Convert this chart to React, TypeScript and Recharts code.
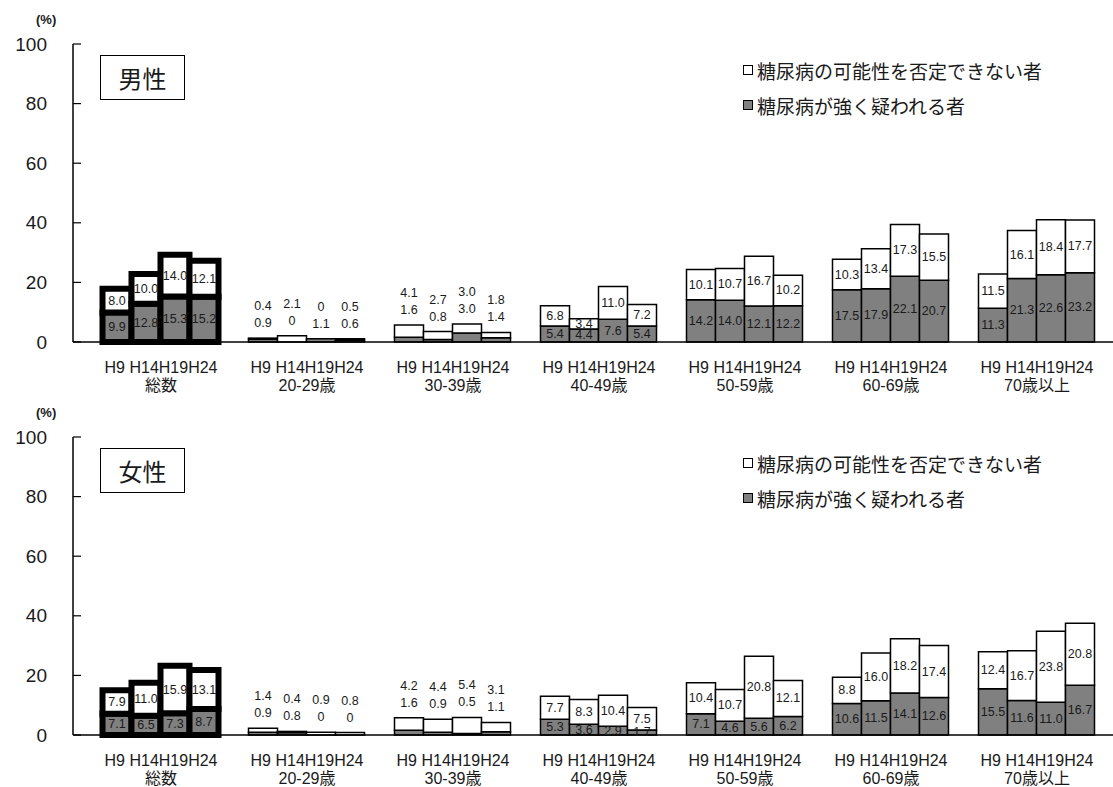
import React from 'react';
import { BarChart, Bar, XAxis, YAxis, Cell, LabelList } from 'recharts';

const ageGroups = ['総数', '20-29歳', '30-39歳', '40-49歳', '50-59歳', '60-69歳', '70歳以上'];
const years = ['H9', 'H14', 'H19', 'H24'];
const yTicks = [0, 20, 40, 60, 80, 100];

const legendPossible = '糖尿病の可能性を否定できない者';
const legendStrong = '糖尿病が強く疑われる者';

// 男性: [H9, H14, H19, H24] per age group
const maleStrong = [
  [9.9, 12.8, 15.3, 15.2],
  [0.9, 0, 1.1, 0.6],
  [1.6, 0.8, 3.0, 1.4],
  [5.4, 4.4, 7.6, 5.4],
  [14.2, 14.0, 12.1, 12.2],
  [17.5, 17.9, 22.1, 20.7],
  [11.3, 21.3, 22.6, 23.2],
];
const malePossible = [
  [8.0, 10.0, 14.0, 12.1],
  [0.4, 2.1, 0, 0.5],
  [4.1, 2.7, 3.0, 1.8],
  [6.8, 3.4, 11.0, 7.2],
  [10.1, 10.7, 16.7, 10.2],
  [10.3, 13.4, 17.3, 15.5],
  [11.5, 16.1, 18.4, 17.7],
];

// 女性
const femaleStrong = [
  [7.1, 6.5, 7.3, 8.7],
  [0.9, 0.8, 0, 0],
  [1.6, 0.9, 0.5, 1.1],
  [5.3, 3.6, 2.9, 1.7],
  [7.1, 4.6, 5.6, 6.2],
  [10.6, 11.5, 14.1, 12.6],
  [15.5, 11.6, 11.0, 16.7],
];
const femalePossible = [
  [7.9, 11.0, 15.9, 13.1],
  [1.4, 0.4, 0.9, 0.8],
  [4.2, 4.4, 5.4, 3.1],
  [7.7, 8.3, 10.4, 7.5],
  [10.4, 10.7, 20.8, 12.1],
  [8.8, 16.0, 18.2, 17.4],
  [12.4, 16.7, 23.8, 20.8],
];

const FONT = "'Liberation Sans', 'Noto Sans CJK JP', sans-serif";
const GRAY = '#808080';
const TEXT = '#1a1a1a';

const CHART_W = 1113;
const CHART_H = 394;
const M_TOP = 44;
const X_AXIS_H = 52;
const Y_MAX = 100;
const PX_PER_UNIT = (CHART_H - M_TOP - X_AXIS_H) / Y_MAX;

// groups whose values are written above the (tiny) bars
const labelsAbove = ['20-29歳', '30-39歳'];

const fmt = (v: number) => (v === 0 ? '0' : v.toFixed(1));

const buildRows = (strong: number[][], possible: number[][]) =>
  ageGroups.map((name, i) => {
    const row: any = { name };
    years.forEach((_, j) => {
      row[`s${j}`] = strong[i][j];
      row[`p${j}`] = possible[i][j];
    });
    return row;
  });

const XTick = (props: any) => {
  const { x, y, payload } = props;
  return (
    <g>
      <text x={x} y={y + 25} textAnchor="middle" dominantBaseline="central" fontSize={16} fill={TEXT} fontFamily={FONT}>
        {years[0]} {years.slice(1).join('')}
      </text>
      <text x={x} y={y + 43} textAnchor="middle" dominantBaseline="central" fontSize={16} fill={TEXT} fontFamily={FONT}>
        {payload.value}
      </text>
    </g>
  );
};

const YTick = (props: any) => {
  const { x, y, payload } = props;
  return (
    <g>
      <line x1={x} x2={x + 8} y1={y} y2={y} stroke="#000" strokeWidth={1.2} />
      <text x={x - 26} y={y} textAnchor="end" dominantBaseline="central" fontSize={19} fill={TEXT} fontFamily={FONT}>
        {payload.value}
      </text>
    </g>
  );
};

const Txt = ({ x, y, v }: { x: number; y: number; v: number }) => (
  <text x={x} y={y} textAnchor="middle" dominantBaseline="central" fontSize={12.5} fill={TEXT} fontFamily={FONT}>
    {fmt(v)}
  </text>
);

// value passed in is the row name (category), so the row is found even when zero bars are skipped
const makeLabel = (kind: 's' | 'p', year: number, rows: any[]) => (props: any) => {
  const vb = props.viewBox ?? props;
  const { x, y, width, height } = vb;
  const row = rows.find((r) => r.name === props.value);
  if (!row) return null;
  const cx = x + width / 2;
  const s = row[`s${year}`];
  const p = row[`p${year}`];
  if (labelsAbove.includes(row.name)) {
    if (kind === 's') {
      const stackTop = y - p * PX_PER_UNIT;
      return (
        <g>
          <Txt x={cx} y={stackTop - 15} v={s} />
          {p === 0 && <Txt x={cx} y={stackTop - 32} v={p} />}
        </g>
      );
    }
    return (
      <g>
        <Txt x={cx} y={y - 32} v={p} />
        {s === 0 && <Txt x={cx} y={y - 15} v={s} />}
      </g>
    );
  }
  return <Txt x={cx} y={y + height / 2} v={kind === 's' ? s : p} />;
};

const LegendBlock = () => (
  <div style={{ position: 'absolute', left: 743, top: 58, fontFamily: FONT, fontSize: 19, color: TEXT }}>
    {[{ t: legendPossible, c: '#fff' }, { t: legendStrong, c: GRAY }].map((item, i) => (
      <div key={i} style={{ display: 'flex', alignItems: 'center', height: 24, marginBottom: i === 0 ? 11 : 0 }}>
        <span style={{ width: 8, height: 8, border: '1.5px solid #000', background: item.c, marginRight: 4 }} />
        <span>{item.t}</span>
      </div>
    ))}
  </div>
);

const SexChart = ({ title, strong, possible, top }: { title: string; strong: number[][]; possible: number[][]; top: number }) => {
  const rows = buildRows(strong, possible);
  return (
    <div style={{ position: 'absolute', left: 0, top, width: CHART_W, height: CHART_H }}>
      <BarChart
        width={CHART_W}
        height={CHART_H}
        data={rows}
        margin={{ top: M_TOP, right: 0, bottom: 0, left: 0 }}
        barGap={0}
        barCategoryGap={14.5}
      >
        <XAxis
          dataKey="name"
          height={X_AXIS_H}
          padding={{ left: 15, right: 3 }}
          tickLine={false}
          tickSize={0}
          tickMargin={0}
          axisLine={{ stroke: '#000', strokeWidth: 1.5 }}
          tick={<XTick />}
          interval={0}
        />
        <XAxis xAxisId="frame" dataKey="name" orientation="top" height={0} tick={false} tickLine={false} axisLine={{ stroke: '#000', strokeWidth: 1.5 }} />
        <YAxis
          domain={[0, Y_MAX]}
          ticks={yTicks}
          width={73}
          tickLine={false}
          tickSize={0}
          tickMargin={0}
          axisLine={{ stroke: '#000', strokeWidth: 1.5 }}
          tick={<YTick />}
          interval={0}
        />
        {years.map((_, j) => [
          <Bar key={`s${j}`} dataKey={`s${j}`} stackId={`y${j}`} fill={GRAY} stroke="#000" strokeWidth={1.5} isAnimationActive={false}>
            {rows.map((_r, i) => (
              <Cell key={i} strokeWidth={i === 0 ? 6 : 1.5} />
            ))}
            <LabelList dataKey={(d: any) => d.name} content={makeLabel('s', j, rows)} />
          </Bar>,
          <Bar key={`p${j}`} dataKey={`p${j}`} stackId={`y${j}`} fill="#fff" stroke="#000" strokeWidth={1.5} isAnimationActive={false}>
            {rows.map((_r, i) => (
              <Cell key={i} strokeWidth={i === 0 ? 6 : 1.5} />
            ))}
            <LabelList dataKey={(d: any) => d.name} content={makeLabel('p', j, rows)} />
          </Bar>,
        ])}
      </BarChart>
      <div style={{ position: 'absolute', left: 36, top: 12, fontFamily: FONT, fontSize: 13, color: TEXT, fontWeight: 'bold' }}>(%)</div>
      <div
        style={{
          position: 'absolute',
          left: 100,
          top: 55,
          width: 83,
          height: 43,
          border: '1.5px solid #000',
          display: 'flex',
          alignItems: 'center',
          justifyContent: 'center',
          fontFamily: FONT,
          fontSize: 24,
          color: TEXT,
          background: '#fff',
        }}
      >
        {title}
      </div>
      <LegendBlock />
    </div>
  );
};

export default function App() {
  return (
    <div style={{ position: 'absolute', left: 0, top: 0, width: 1113, height: 787, background: '#fff' }}>
      <SexChart title="男性" strong={maleStrong} possible={malePossible} top={0} />
      <SexChart title="女性" strong={femaleStrong} possible={femalePossible} top={393} />
    </div>
  );
}
